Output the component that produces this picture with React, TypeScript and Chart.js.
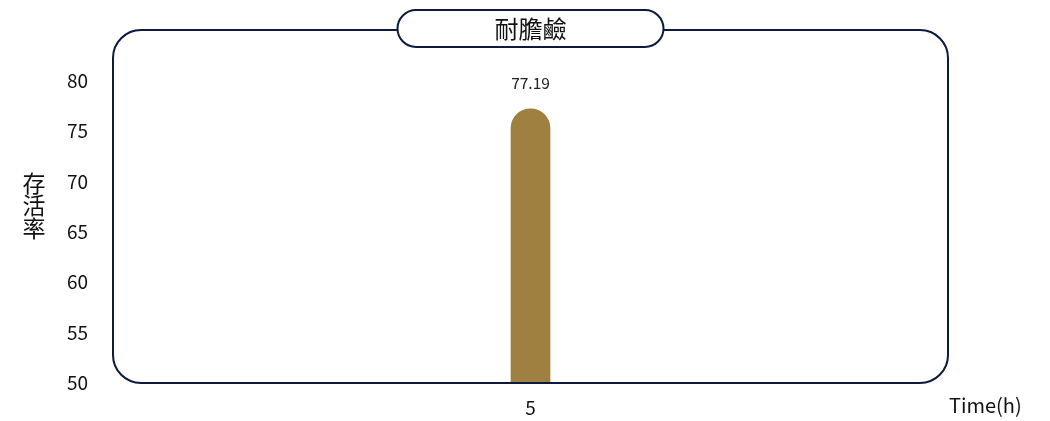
import { useEffect, useRef } from 'react';
import { Chart, ChartConfiguration, Plugin, registerables } from 'chart.js';

Chart.register(...registerables);

// chart data
const categories = ['5'];
const survival = [77.19];
const yTicks = [50, 55, 60, 65, 70, 75, 80];

const chartTitle = '耐膽鹼';
const yTitle = ['存', '活', '率'];
const xTitle = 'Time(h)';

const FONT = '"Noto Sans CJK TC", "Noto Sans", sans-serif';
const NAVY = '#0b1a3d';
const BAR = '#a08040';

function roundRect(ctx: CanvasRenderingContext2D, x: number, y: number, w: number, h: number, r: number) {
  ctx.beginPath();
  ctx.moveTo(x + r, y);
  ctx.lineTo(x + w - r, y);
  ctx.arcTo(x + w, y, x + w, y + r, r);
  ctx.lineTo(x + w, y + h - r);
  ctx.arcTo(x + w, y + h, x + w - r, y + h, r);
  ctx.lineTo(x + r, y + h);
  ctx.arcTo(x, y + h, x, y + h - r, r);
  ctx.lineTo(x, y + r);
  ctx.arcTo(x, y, x + r, y, r);
  ctx.closePath();
}

// frame around the plot, the pill title, axis titles and value labels
const decorPlugin: Plugin<'bar'> = {
  id: 'decor',
  afterDatasetsDraw(chart) {
    const { ctx, chartArea } = chart;
    const { left, top, right, bottom } = chartArea;
    ctx.save();

    // value labels
    const meta = chart.getDatasetMeta(0);
    ctx.fillStyle = '#222';
    ctx.font = `15.5px ${FONT}`;
    ctx.textAlign = 'center';
    ctx.textBaseline = 'middle';
    meta.data.forEach((el, i) => {
      ctx.fillText(survival[i].toFixed(2), el.x, el.y - 26);
    });

    // frame
    ctx.strokeStyle = NAVY;
    ctx.lineWidth = 2;
    roundRect(ctx, left, top, right - left, bottom - top, 28);
    ctx.stroke();

    // title pill
    const cx = (left + right) / 2;
    const pw = 266;
    const ph = 37;
    roundRect(ctx, cx - pw / 2, top - 20, pw, ph, ph / 2);
    ctx.fillStyle = '#fff';
    ctx.fill();
    ctx.stroke();
    ctx.fillStyle = '#111';
    ctx.font = `24px ${FONT}`;
    ctx.fillText(chartTitle, cx, top - 1.5);

    // y title, stacked characters
    ctx.font = `23px ${FONT}`;
    yTitle.forEach((ch, i) => {
      ctx.fillText(ch, 34, 183 + i * 22.5);
    });

    // x title
    ctx.font = `20px ${FONT}`;
    ctx.textAlign = 'left';
    ctx.fillText(xTitle, 949, bottom + 22);

    ctx.restore();
  },
};

export default function App() {
  const canvasRef = useRef<HTMLCanvasElement>(null);
  const chartRef = useRef<Chart | null>(null);

  useEffect(() => {
    document.body.style.margin = '0';
    if (!canvasRef.current) return;
    if (chartRef.current) chartRef.current.destroy();

    const config: ChartConfiguration<'bar'> = {
      type: 'bar',
      data: {
        labels: categories,
        datasets: [
          {
            data: survival,
            backgroundColor: BAR,
            barThickness: 39,
            borderRadius: { topLeft: 20, topRight: 20, bottomLeft: 0, bottomRight: 0 },
            borderSkipped: 'bottom',
          },
        ],
      },
      options: {
        animation: false,
        responsive: true,
        maintainAspectRatio: false,
        layout: { padding: { top: 30, right: 102, left: 0, bottom: 0 } },
        plugins: {
          legend: { display: false },
          tooltip: { enabled: false },
        },
        scales: {
          x: {
            grid: { display: false, drawTicks: false },
            border: { display: false },
            ticks: {
              color: '#111',
              font: { family: FONT, size: 19 },
              padding: 13,
            },
            afterFit: (s) => {
              s.height = 38;
              s.paddingLeft = 0;
              s.paddingRight = 0;
            },
          },
          y: {
            min: 50,
            max: 85,
            grid: { display: false, drawTicks: false },
            border: { display: false },
            afterBuildTicks: (s) => {
              s.ticks = yTicks.map((v) => ({ value: v }));
            },
            ticks: {
              color: '#111',
              font: { family: FONT, size: 19 },
              padding: 25,
            },
            afterFit: (s) => {
              s.width = 113;
              s.paddingTop = 0;
              s.paddingBottom = 0;
            },
          },
        },
      },
      plugins: [decorPlugin],
    };

    chartRef.current = new Chart(canvasRef.current, config);
    return () => {
      if (chartRef.current) {
        chartRef.current.destroy();
        chartRef.current = null;
      }
    };
  }, []);

  return (
    <div style={{ position: 'relative', width: '1050px', height: '421px', background: '#fff' }}>
      <canvas ref={canvasRef}></canvas>
    </div>
  );
}
